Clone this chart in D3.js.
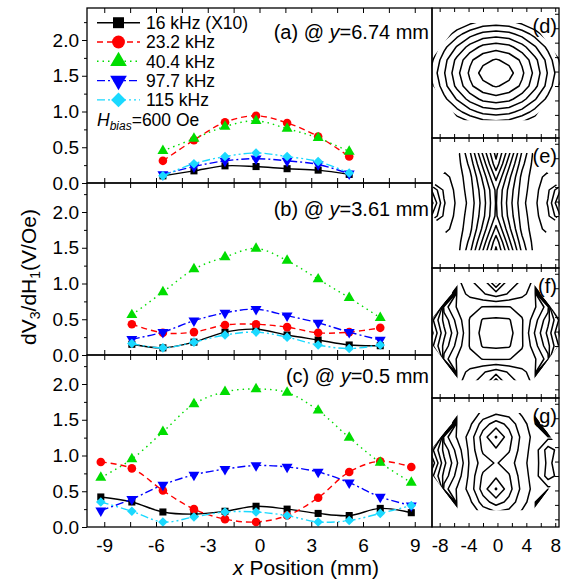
<!DOCTYPE html>
<html>
<head>
<meta charset="utf-8">
<script src="https://cdn.jsdelivr.net/npm/d3@7"></script>
<style>
  body { margin: 0; background: #fff; }
  svg text { font-family: Arial, "Liberation Sans", sans-serif; fill: #000; }
</style>
</head>
<body>
<svg id="chart" width="565" height="582"></svg>
<script>
// scan positions along x (mm) for each row
const xRowA = [-5.6, -3.8, -2.0, -0.2, 1.6, 3.4, 5.2];
const xRowB = [-7.4, -5.6, -3.8, -2.0, -0.2, 1.6, 3.4, 5.2, 7.0];
const xRowC = [-9.2, -7.4, -5.6, -3.8, -2.0, -0.2, 1.6, 3.4, 5.2, 7.0, 8.8];

// dV3/dH1 (V/Oe) at y = 6.74 mm
const a16  = [0.10, 0.17, 0.24, 0.23, 0.20, 0.18, 0.12];
const a23  = [0.31, 0.60, 0.85, 0.94, 0.84, 0.65, 0.37];
const a40  = [0.45, 0.62, 0.79, 0.87, 0.76, 0.63, 0.44];
const a97  = [0.12, 0.23, 0.31, 0.34, 0.31, 0.26, 0.13];
const a115 = [0.10, 0.27, 0.37, 0.42, 0.37, 0.30, 0.14];

// y = 3.61 mm
const b16  = [0.15, 0.10, 0.18, 0.32, 0.36, 0.28, 0.21, 0.14, 0.13];
const b23  = [0.43, 0.31, 0.32, 0.42, 0.43, 0.39, 0.31, 0.32, 0.38];
const b40  = [0.56, 0.88, 1.20, 1.37, 1.49, 1.32, 1.06, 0.80, 0.52];
const b97  = [0.22, 0.32, 0.48, 0.59, 0.64, 0.55, 0.45, 0.32, 0.21];
const b115 = [0.16, 0.10, 0.18, 0.28, 0.32, 0.25, 0.14, 0.09, 0.14];

// y = 0.5 mm
const c16  = [0.42, 0.35, 0.21, 0.18, 0.22, 0.29, 0.25, 0.19, 0.16, 0.26, 0.20];
const c23  = [0.91, 0.82, 0.51, 0.25, 0.11, 0.07, 0.16, 0.41, 0.77, 0.92, 0.84];
const c40  = [0.69, 0.95, 1.33, 1.72, 1.89, 1.93, 1.88, 1.63, 1.25, 0.90, 0.62];
const c97  = [0.23, 0.39, 0.59, 0.73, 0.81, 0.86, 0.84, 0.77, 0.62, 0.42, 0.30];
const c115 = [0.35, 0.22, 0.07, 0.14, 0.21, 0.21, 0.16, 0.07, 0.09, 0.19, 0.30];

const seriesNames = ["16 kHz (X10)", "23.2 kHz", "40.4 kHz", "97.7 kHz", "115 kHz"];

const xTicks = [-9, -7.5, -6, -4.5, -3, -1.5, 0, 1.5, 3, 4.5, 6, 7.5, 9];
const yMajor = [0, 0.5, 1.0, 1.5, 2.0];
const yMinor = [0.25, 0.75, 1.25, 1.75, 2.25];

// 2D maps (d)-(g): grid nodes and values
const gridX = [-9.2, -7.4, -5.6, -3.8, -2.0, -0.2, 1.6, 3.4, 5.2, 7.0, 8.8];
const gridY = [8.8, 7.0, 5.2, 3.4, 1.6, -0.2, -2.0, -3.8, -5.6, -7.4, -9.2];

const mapD = [
  [-5.4, -4.2, -3.3, -2.6, -2.2, -2.0, -2.2, -2.6, -3.3, -4.2, -5.4],
  [-3.7, -2.4, -1.3, -0.5,  0.1,  0.3,  0.1, -0.5, -1.3, -2.4, -3.7],
  [-2.2, -0.8,  0.6,  1.6,  2.3,  2.5,  2.3,  1.6,  0.6, -0.8, -2.2],
  [-1.0,  0.7,  2.1,  3.4,  4.3,  4.6,  4.3,  3.4,  2.1,  0.7, -1.0],
  [-0.3,  1.6,  3.3,  4.8,  5.7,  6.1,  5.7,  4.8,  3.3,  1.6, -0.3],
  [ 0.2,  1.9,  3.7,  5.2,  6.4,  7.4,  6.4,  5.2,  3.7,  1.9,  0.2],
  [-0.3,  1.6,  3.3,  4.8,  5.7,  6.1,  5.7,  4.8,  3.3,  1.6, -0.3],
  [-1.0,  0.7,  2.1,  3.4,  4.3,  4.6,  4.3,  3.4,  2.1,  0.7, -1.0],
  [-2.2, -0.8,  0.6,  1.6,  2.3,  2.5,  2.3,  1.6,  0.6, -0.8, -2.2],
  [-3.7, -2.4, -1.3, -0.5,  0.1,  0.3,  0.1, -0.5, -1.3, -2.4, -3.7],
  [-5.4, -4.2, -3.3, -2.6, -2.2, -2.0, -2.2, -2.6, -3.3, -4.2, -5.4]
];
const levelsD = [0, 1, 2, 3, 4, 5, 6];

const mapE = [
  [ 5.0, 5.5, 5.8, 3.2, -0.5, -3.3, -0.5, 3.2, 5.8, 5.5,  5.0],
  [ 5.2, 5.7, 5.9, 3.5,  0.1, -3.0,  0.1, 3.5, 5.9, 5.7,  5.2],
  [ 5.6, 6.0, 6.0, 4.2,  1.2, -2.2,  1.2, 4.2, 6.0, 6.0,  5.6],
  [ 6.3, 6.8, 6.1, 4.8,  2.2, -0.8,  2.2, 4.8, 6.1, 6.8,  6.3],
  [ 9.6, 7.3, 6.2, 5.0,  2.8,  0.3,  2.8, 5.0, 6.2, 7.3,  9.6],
  [11.0, 7.6, 6.3, 5.2,  3.0,  0.4,  3.0, 5.2, 6.3, 7.6, 11.0],
  [ 9.6, 7.3, 6.2, 5.0,  2.8,  0.3,  2.8, 5.0, 6.2, 7.3,  9.6],
  [ 6.3, 6.8, 6.1, 4.8,  2.2, -0.8,  2.2, 4.8, 6.1, 6.8,  6.3],
  [ 5.6, 6.0, 6.0, 4.2,  1.2, -2.2,  1.2, 4.2, 6.0, 6.0,  5.6],
  [ 5.2, 5.7, 5.9, 3.5,  0.1, -3.0,  0.1, 3.5, 5.9, 5.7,  5.2],
  [ 5.0, 5.5, 5.8, 3.2, -0.5, -3.3, -0.5, 3.2, 5.8, 5.5,  5.0]
];
const levelsE = [-2.5, -1.5, -0.5, 0.5, 1.5, 2.5, 3.5, 4.5, 5.5, 6.5, 7.5, 8.5, 9.5, 10.5];

const mapF = [
  [ -15,  -15,  -15, 2.4,  1.0, -2.0,  1.0, 2.4,  -15,  -15,  -15],
  [ -15,  -15,  3.8, 2.6,  2.0, -0.9,  2.0, 2.6,  3.8,  -15,  -15],
  [ -15,  -15,  3.9, 3.3,  2.6,  2.0,  2.6, 3.3,  3.9,  -15,  -15],
  [ -15,  2.0,  3.6, 4.1, 4.55,  4.6, 4.55, 4.1,  3.6,  2.0,  -15],
  [-2.0,  0.8,  2.9, 4.6,  5.6,  5.7,  5.6, 4.6,  2.9,  0.8, -2.0],
  [-3.0,  0.2,  2.4, 4.6,  5.9,  6.2,  5.9, 4.6,  2.4,  0.2, -3.0],
  [-2.0,  0.8,  2.9, 4.6,  5.6,  5.7,  5.6, 4.6,  2.9,  0.8, -2.0],
  [ -15,  2.0,  3.6, 4.1, 4.55,  4.6, 4.55, 4.1,  3.6,  2.0,  -15],
  [ -15,  -15,  3.9, 3.3,  2.6,  2.0,  2.6, 3.3,  3.9,  -15,  -15],
  [ -15,  -15,  3.8, 2.6,  2.0, -0.9,  2.0, 2.6,  3.8,  -15,  -15],
  [ -15,  -15,  -15, 2.4,  1.0, -2.0,  1.0, 2.4,  -15,  -15,  -15]
];
const levelsF = [-2.5, -1.5, -0.5, 0.5, 1.5, 2.5, 3.5, 4.5, 5.5];

const mapG = [
  [ -15,  -15,  -15, 3.6, 4.2, 4.6, 4.4, 3.8,  -15,  -15,  -15],
  [ -15,  -15,  3.8, 4.0, 4.6, 5.0, 4.9, 4.3,  3.9,  -15,  -15],
  [ -15,  -15,  3.9, 4.3, 6.0, 7.0, 6.2, 4.8,  4.0,  -15,  -15],
  [ -15,  2.0,  3.6, 4.9, 7.0, 8.6, 6.9, 5.2,  4.1,  3.8,  3.6],
  [-2.0,  0.8,  2.9, 4.8, 6.7, 7.3, 6.6, 5.0,  4.0,  2.0,  3.0],
  [-3.5,  0.2,  2.4, 4.7, 6.0, 6.6, 6.0, 4.8,  4.0,  2.2,  3.2],
  [-2.0,  0.8,  2.9, 4.8, 6.7, 7.3, 6.6, 5.0,  4.0,  2.0,  3.0],
  [ -15,  2.0,  3.6, 4.9, 7.0, 8.6, 6.9, 5.2,  4.1,  3.8,  3.6],
  [ -15,  -15,  3.9, 4.3, 6.0, 7.0, 6.2, 4.8,  4.0,  -15,  -15],
  [ -15,  -15,  3.8, 4.0, 4.6, 5.0, 4.9, 4.3,  3.9,  -15,  -15],
  [ -15,  -15,  -15, 3.6, 4.2, 4.6, 4.4, 3.8,  -15,  -15,  -15]
];
const levelsG = [-2.5, -1.5, -0.5, 0.5, 1.5, 2.5, 3.5, 4.5, 5.5, 6.5, 7.5, 8.5];

// outline of the scanned area (mm)
const sampleEdge = [[-9.1, 1.75], [-5.3, 6.74], [4.9, 6.74], [8.6, 1.75],
                    [8.6, -1.75], [4.9, -6.74], [-5.3, -6.74], [-9.1, -1.75]];
const mapTicks = [-8, -6, -4, -2, 0, 2, 4, 6, 8];

// styles
const seriesColors = ["#000000", "#ff0000", "#00dd00", "#0000ff", "#1ad9ff"];
const seriesDash = [null, "6,4", "1.5,4", "8,3,2,3", "8,3,2,3,2,3"];
const seriesSymbols = [d3.symbolSquare, d3.symbolCircle, d3.symbolTriangle, d3.symbolTriangle, d3.symbolSquare];
const seriesRotate = [0, 0, 0, 180, 45];
const markSize = [50, 58, 52, 52, 46];
const legendSize = [120, 130, 120, 120, 110];

const svg = d3.select("#chart");
svg.append("rect").attr("width", 565).attr("height", 582).attr("fill", "#fff");

const x = d3.scaleLinear().domain([-10, 10]).range([87, 432]);

const panels = [
  {tag: "(a)", yPos: "6.74", top: 8,   bottom: 183, titleY: 38.5, xs: xRowA, rows: [a16, a23, a40, a97, a115]},
  {tag: "(b)", yPos: "3.61", top: 183, bottom: 355, titleY: 215.8, xs: xRowB, rows: [b16, b23, b40, b97, b115]},
  {tag: "(c)", yPos: "0.5",  top: 355, bottom: 527, titleY: 383, xs: xRowC, rows: [c16, c23, c40, c97, c115]}
];

function styleAxis(g, size) {
  g.attr("font-family", null).attr("font-size", size);
  g.select(".domain").remove();
  g.selectAll("line").attr("stroke", "#000").attr("stroke-width", 1);
}

panels.forEach(function(p, k) {
  var y = d3.scaleLinear().domain([0, 2]).range([p.bottom, p.bottom - 143]);
  var g = svg.append("g");

  g.append("clipPath").attr("id", "clip" + k)
    .append("rect").attr("x", x(-10)).attr("y", p.top)
    .attr("width", x(10) - x(-10)).attr("height", p.bottom - p.top);

  var plot = g.append("g").attr("clip-path", "url(#clip" + k + ")");

  p.rows.forEach(function(vals, s) {
    var pts = p.xs.map(function(xv, i) { return [xv, vals[i]]; });
    plot.append("path")
      .datum(pts)
      .attr("fill", "none")
      .attr("stroke", seriesColors[s])
      .attr("stroke-width", 1.4)
      .attr("stroke-dasharray", seriesDash[s])
      .attr("d", d3.line().x(d => x(d[0])).y(d => y(d[1])).curve(d3.curveCatmullRom));

    plot.append("g")
      .selectAll("path")
      .data(pts)
      .join("path")
        .attr("transform", d => `translate(${x(d[0])},${y(d[1])}) rotate(${seriesRotate[s]})`)
        .attr("d", d3.symbol(seriesSymbols[s], markSize[s]))
        .attr("fill", seriesColors[s]);
  });

  // axes
  styleAxis(g.append("g").attr("transform", `translate(${x(-10)},0)`)
    .call(d3.axisLeft(y).tickValues(yMajor).tickSize(5).tickPadding(3).tickFormat(d3.format(".1f"))), 19);
  styleAxis(g.append("g").attr("transform", `translate(${x(-10)},0)`)
    .call(d3.axisLeft(y).tickValues(yMinor.filter(v => y(v) > p.top)).tickSize(3).tickFormat("")), 19);

  styleAxis(g.append("g").attr("transform", `translate(0,${p.bottom})`)
    .call(d3.axisBottom(x).tickValues(xTicks).tickSize(-5).tickPadding(11.5)
      .tickFormat(d => (k === 2 && d % 3 === 0) ? String(d) : "")), 19);
  styleAxis(g.append("g").attr("transform", `translate(0,${p.top})`)
    .call(d3.axisTop(x).tickValues(xTicks).tickSize(-5).tickFormat("")), 19);

  g.append("rect")
    .attr("x", x(-10)).attr("y", p.top)
    .attr("width", x(10) - x(-10)).attr("height", p.bottom - p.top)
    .attr("fill", "none").attr("stroke", "#000").attr("stroke-width", 1.3);

  var t = g.append("text").attr("x", 429).attr("y", p.titleY)
    .attr("text-anchor", "end").attr("font-size", 20);
  t.append("tspan").text(p.tag + " @ ");
  t.append("tspan").attr("font-style", "italic").text("y");
  t.append("tspan").text("=" + p.yPos + " mm");
});

// legend inside (a)
var legend = svg.append("g");
seriesNames.forEach(function(name, s) {
  var cy = 22.7 + 19.3 * s;
  legend.append("line")
    .attr("x1", 97).attr("x2", 140).attr("y1", cy).attr("y2", cy)
    .attr("stroke", seriesColors[s]).attr("stroke-width", 1.4)
    .attr("stroke-dasharray", seriesDash[s]);
  legend.append("path")
    .attr("transform", `translate(118.5,${cy}) rotate(${seriesRotate[s]})`)
    .attr("d", d3.symbol(seriesSymbols[s], legendSize[s]))
    .attr("fill", seriesColors[s]);
  legend.append("text").attr("x", 146).attr("y", cy + 6.2)
    .attr("font-size", 17.5).text(name);
});
var hb = legend.append("text").attr("x", 97).attr("y", 126).attr("font-size", 17.5);
hb.append("tspan").attr("font-style", "italic").text("H");
hb.append("tspan").attr("font-style", "italic").attr("font-size", 12).attr("dy", 4).text("bias");
hb.append("tspan").attr("dy", -4).text("=600 Oe");

// axis titles
var yt = svg.append("text")
  .attr("transform", "translate(36,277) rotate(-90)")
  .attr("text-anchor", "middle").attr("font-size", 21);
yt.append("tspan").text("dV");
yt.append("tspan").attr("font-size", 14).attr("dy", 4).text("3");
yt.append("tspan").attr("dy", -4).text("/dH");
yt.append("tspan").attr("font-size", 14).attr("dy", 4).text("1");
yt.append("tspan").attr("dy", -4).text("(V/Oe)");

var xt = svg.append("text").attr("x", 306).attr("y", 575)
  .attr("text-anchor", "middle").attr("font-size", 21);
xt.append("tspan").attr("font-style", "italic").text("x");
xt.append("tspan").text(" Position (mm)");

// contour maps
const xc = d3.scaleLinear().domain([-9.2, 8.8]).range([431, 561]);
const maps = [
  {tag: "(d)", top: 8,   bottom: 138, grid: mapD, levels: levelsD},
  {tag: "(e)", top: 138, bottom: 268, grid: mapE, levels: levelsE},
  {tag: "(f)", top: 268, bottom: 398, grid: mapF, levels: levelsF},
  {tag: "(g)", top: 398, bottom: 527, grid: mapG, levels: levelsG}
];

maps.forEach(function(m, k) {
  var yc = d3.scaleLinear().domain([8.8, -9.2]).range([m.top, m.top + 130]);
  var g = svg.append("g");

  // contour grid units -> pixels (node i sits at i + 0.5)
  var gx = d3.scaleLinear().domain([0.5, 10.5]).range([xc(gridX[0]), xc(gridX[10])]);
  var gy = d3.scaleLinear().domain([0.5, 10.5]).range([yc(gridY[0]), yc(gridY[10])]);
  var path = d3.geoPath(d3.geoTransform({
    point: function(px, py) { this.stream.point(gx(px), gy(py)); }
  }));

  var edge = sampleEdge.map(d => [xc(d[0]), yc(d[1])]);
  g.append("clipPath").attr("id", "mclip" + k)
    .append("polygon").attr("points", edge.map(d => d.join(",")).join(" "));

  var contours = d3.contours().size([11, 11]).thresholds(m.levels)(m.grid.flat());

  g.append("g").attr("clip-path", "url(#mclip" + k + ")")
    .selectAll("path")
    .data(contours)
    .join("path")
      .attr("d", path)
      .attr("fill", "none")
      .attr("stroke", "#000")
      .attr("stroke-width", 1.5)
      .attr("stroke-linejoin", "round");

  var left = 432, right = 559;
  styleAxis(g.append("g").attr("transform", `translate(0,${m.top})`)
    .call(d3.axisTop(xc).tickValues(mapTicks).tickSize(-4).tickFormat("")), 19);
  styleAxis(g.append("g").attr("transform", `translate(0,${m.bottom})`)
    .call(d3.axisBottom(xc).tickValues(mapTicks).tickSize(-4).tickPadding(11.5)
      .tickFormat(d => (k === 3 && d % 4 === 0) ? String(d) : "")), 19);
  styleAxis(g.append("g").attr("transform", `translate(${right},0)`)
    .call(d3.axisRight(yc).tickValues(mapTicks.filter(v => yc(v) < m.bottom - 2)).tickSize(-4).tickFormat("")), 19);

  g.append("rect")
    .attr("x", left).attr("y", m.top)
    .attr("width", right - left).attr("height", m.bottom - m.top)
    .attr("fill", "none").attr("stroke", "#000").attr("stroke-width", 1.3);

  g.append("text").attr("x", 557).attr("y", m.top + 25)
    .attr("text-anchor", "end").attr("font-size", 20).text(m.tag);
});
</script>
</body>
</html>
